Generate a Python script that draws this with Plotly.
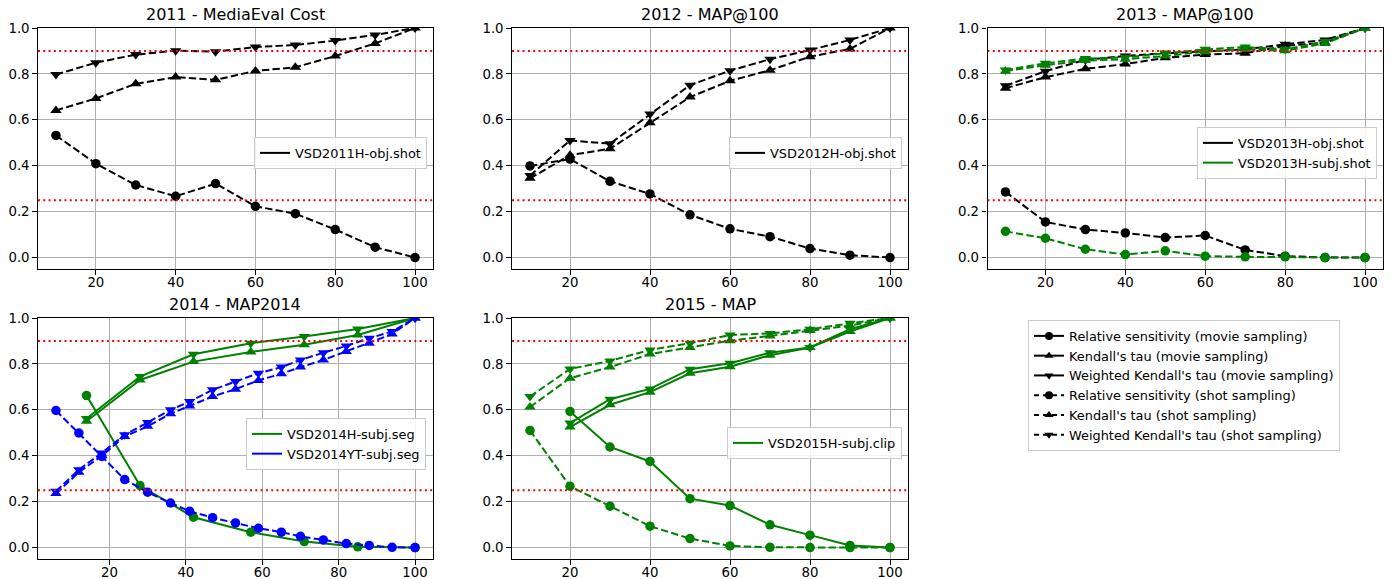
import plotly.graph_objects as go

# ---------------- data ----------------
x_2011 = [10, 20, 30, 40, 50, 60, 70, 80, 90, 100]
rs_2011_shot = [0.532, 0.409, 0.316, 0.267, 0.322, 0.223, 0.191, 0.122, 0.045, 0.0]
kt_2011_shot = [0.641, 0.693, 0.757, 0.786, 0.774, 0.813, 0.829, 0.878, 0.933, 1.0]
wkt_2011_shot = [0.797, 0.849, 0.884, 0.901, 0.897, 0.917, 0.926, 0.945, 0.970, 1.0]

x_2012 = [10, 20, 30, 40, 50, 60, 70, 80, 90, 100]
rs_2012_shot = [0.399, 0.429, 0.332, 0.277, 0.186, 0.125, 0.091, 0.039, 0.010, 0.0]
kt_2012_shot = [0.345, 0.446, 0.474, 0.587, 0.699, 0.770, 0.816, 0.875, 0.909, 1.0]
wkt_2012_shot = [0.357, 0.510, 0.496, 0.625, 0.751, 0.814, 0.864, 0.904, 0.948, 1.0]

x_2013 = [10, 20, 30, 40, 50, 60, 70, 80, 90, 100]
rs_2013_obj = [0.286, 0.155, 0.122, 0.107, 0.087, 0.096, 0.033, 0.006, 0.0, 0.0]
kt_2013_obj = [0.738, 0.786, 0.822, 0.843, 0.870, 0.884, 0.890, 0.922, 0.936, 1.0]
wkt_2013_obj = [0.748, 0.812, 0.861, 0.878, 0.890, 0.897, 0.907, 0.929, 0.948, 1.0]
rs_2013_subj = [0.114, 0.084, 0.036, 0.013, 0.029, 0.006, 0.003, 0.003, 0.0, 0.0]
kt_2013_subj = [0.812, 0.838, 0.858, 0.864, 0.878, 0.897, 0.907, 0.901, 0.933, 1.0]
wkt_2013_subj = [0.817, 0.846, 0.867, 0.872, 0.890, 0.907, 0.917, 0.907, 0.941, 1.0]

x_2014H = [14, 28, 42, 57, 71, 85, 100]
rs_2014H_movie = [0.662, 0.270, 0.132, 0.067, 0.026, 0.003, 0.0]
kt_2014H_movie = [0.550, 0.730, 0.810, 0.852, 0.883, 0.926, 1.0]
wkt_2014H_movie = [0.562, 0.745, 0.842, 0.890, 0.919, 0.952, 1.0]

x_2014YT = [6, 12, 18, 24, 30, 36, 41, 47, 53, 59, 65, 70, 76, 82, 88, 94, 100]
rs_2014YT_shot = [0.597, 0.499, 0.397, 0.296, 0.241, 0.194, 0.158, 0.130, 0.107, 0.084,
                  0.067, 0.049, 0.033, 0.017, 0.009, 0.001, 0.0]
kt_2014YT_shot = [0.235, 0.328, 0.400, 0.484, 0.528, 0.583, 0.617, 0.658, 0.690, 0.728,
                  0.757, 0.786, 0.817, 0.854, 0.890, 0.930, 1.0]
wkt_2014YT_shot = [0.245, 0.339, 0.412, 0.491, 0.545, 0.600, 0.636, 0.687, 0.723, 0.759,
                   0.786, 0.817, 0.849, 0.878, 0.912, 0.941, 1.0]

x_2015_movie = [20, 30, 40, 50, 60, 70, 80, 90, 100]
rs_2015_movie = [0.593, 0.438, 0.375, 0.213, 0.183, 0.099, 0.054, 0.009, 0.0]
kt_2015_movie = [0.525, 0.622, 0.677, 0.759, 0.788, 0.838, 0.871, 0.941, 1.0]
wkt_2015_movie = [0.542, 0.646, 0.691, 0.777, 0.803, 0.849, 0.872, 0.951, 1.0]
x_2015_shot = [10, 20, 30, 40, 50, 60, 70, 80, 90, 100]
rs_2015_shot = [0.510, 0.267, 0.180, 0.093, 0.039, 0.007, 0.001, 0.0, 0.0, 0.0]
kt_2015_shot = [0.612, 0.738, 0.786, 0.843, 0.872, 0.901, 0.922, 0.945, 0.967, 1.0]
wkt_2015_shot = [0.658, 0.778, 0.813, 0.861, 0.890, 0.926, 0.933, 0.951, 0.977, 1.0]

titles = ["2011 - MediaEval Cost", "2012 - MAP@100", "2013 - MAP@100",
          "2014 - MAP2014", "2015 - MAP"]
x_ticks = [20, 40, 60, 80, 100]
y_ticks = [0.0, 0.2, 0.4, 0.6, 0.8, 1.0]
thresholds = [0.25, 0.9]

metric_names = ["Relative sensitivity", "Kendall's tau", "Weighted Kendall's tau"]
sampling_names = ["movie sampling", "shot sampling"]

# ---------------- style ----------------
FONT = "DejaVu Sans"
FS = 13.3
LEG_FS = 12.9
BLACK, GREEN, BLUE = "#000000", "#008000", "#0000ff"
DASH = "7.4px,3.2px"
LW = 2
SYMBOLS = ["circle", "triangle-up", "triangle-down"]
SIZES = [9.5, 10, 10]
W, H = 1391, 579

col_px = [(38, 433), (512, 908), (987.5, 1383)]
row_px = [(28, 269), (318, 559)]

def xdom(c):
    return [col_px[c][0] / W, col_px[c][1] / W]

def ydom(r):
    return [1 - row_px[r][1] / H, 1 - row_px[r][0] / H]

cells = [(0, 0), (0, 1), (0, 2), (1, 0), (1, 1)]
x_ranges = [[5.5, 104.5], [5.5, 104.5], [5.5, 104.5], [1.3, 104.7], [5.5, 104.5]]

fig = go.Figure()

def add_set(i, x, rs, kt, wkt, color, dash):
    suffix = "" if i == 0 else str(i + 1)
    for ys, sym, sz in zip([rs, kt, wkt], SYMBOLS, SIZES):
        fig.add_trace(go.Scatter(
            x=x, y=ys, mode="lines+markers", xaxis="x" + suffix, yaxis="y" + suffix,
            line=dict(color=color, width=LW, dash=dash),
            marker=dict(symbol=sym, size=sz, color=color),
            showlegend=False, hoverinfo="x+y"))

add_set(0, x_2011, rs_2011_shot, kt_2011_shot, wkt_2011_shot, BLACK, DASH)
add_set(1, x_2012, rs_2012_shot, kt_2012_shot, wkt_2012_shot, BLACK, DASH)
add_set(2, x_2013, rs_2013_obj, kt_2013_obj, wkt_2013_obj, BLACK, DASH)
add_set(2, x_2013, rs_2013_subj, kt_2013_subj, wkt_2013_subj, GREEN, DASH)
add_set(3, x_2014H, rs_2014H_movie, kt_2014H_movie, wkt_2014H_movie, GREEN, "solid")
add_set(3, x_2014YT, rs_2014YT_shot, kt_2014YT_shot, wkt_2014YT_shot, BLUE, DASH)
add_set(4, x_2015_movie, rs_2015_movie, kt_2015_movie, wkt_2015_movie, GREEN, "solid")
add_set(4, x_2015_shot, rs_2015_shot, kt_2015_shot, wkt_2015_shot, GREEN, DASH)

# dataset legends (one per panel)
dataset_legends = [
    ("legend", [("VSD2011H-obj.shot", BLACK)], 254, 137),
    ("legend2", [("VSD2012H-obj.shot", BLACK)], 729, 137),
    ("legend3", [("VSD2013H-obj.shot", BLACK), ("VSD2013H-subj.shot", GREEN)], 1197, 127),
    ("legend4", [("VSD2014H-subj.seg", GREEN), ("VSD2014YT-subj.seg", BLUE)], 246, 418),
    ("legend5", [("VSD2015H-subj.clip", GREEN)], 727, 427),
]
legend_style = dict(bgcolor="rgba(255,255,255,0.85)", bordercolor="#cccccc", borderwidth=1,
                    font=dict(family=FONT, size=LEG_FS, color="#000000"),
                    xanchor="left", yanchor="top", tracegroupgap=0)
layout_legends = {}
for name, entries, lx, ly in dataset_legends:
    for label, color in entries:
        fig.add_trace(go.Scatter(x=[None], y=[None], mode="lines", name=label,
                                 line=dict(color=color, width=LW), legend=name,
                                 showlegend=True))
    layout_legends[name] = dict(x=lx / W, y=1 - ly / H, **legend_style)

# marker/linestyle legend
for s_i, samp in enumerate(sampling_names):
    for m_i, met in enumerate(metric_names):
        fig.add_trace(go.Scatter(
            x=[None], y=[None], mode="lines+markers", name=f"{met} ({samp})",
            line=dict(color=BLACK, width=LW, dash="solid" if s_i == 0 else "5px,4px"),
            marker=dict(symbol=SYMBOLS[m_i], size=8, color=BLACK),
            legend="legend6", showlegend=True))
layout_legends["legend6"] = dict(x=1028 / W, y=1 - 320 / H, **legend_style)

# axes
axis_common = dict(showline=True, mirror=True, linecolor="#000000", linewidth=1.07,
                   ticks="outside", ticklen=4.7, tickcolor="#000000", tickwidth=1.07,
                   showgrid=True, gridcolor="#b0b0b0", gridwidth=1.07, zeroline=False,
                   automargin=False,
                   tickfont=dict(family=FONT, size=FS, color="#000000"))
layout_axes = {}
shapes = []
annotations = []
for i, (r, c) in enumerate(cells):
    suffix = "" if i == 0 else str(i + 1)
    layout_axes["xaxis" + suffix] = dict(domain=xdom(c), anchor="y" + suffix,
                                         range=x_ranges[i], tickvals=x_ticks,
                                         ticklabelstandoff=-4, **axis_common)
    layout_axes["yaxis" + suffix] = dict(domain=ydom(r), anchor="x" + suffix,
                                         range=[-0.05, 1.0], tickvals=y_ticks,
                                         tickformat=".1f", **axis_common)
    for t in thresholds:
        shapes.append(dict(type="line", xref=f"x{suffix} domain", yref="y" + suffix,
                           x0=0, x1=1, y0=t, y1=t,
                           line=dict(color="#ff0000", width=2, dash="2px,3.3px")))
    d = xdom(c)
    annotations.append(dict(text=titles[i], x=(d[0] + d[1]) / 2, xref="paper",
                            y=1 - (row_px[r][0] - 14) / H, yref="paper",
                            xanchor="center", yanchor="middle", showarrow=False,
                            font=dict(family=FONT, size=16, color="#000000")))

fig.update_layout(width=W, height=H,
                  margin=dict(l=0, r=0, t=0, b=0, pad=0, autoexpand=False),
                  paper_bgcolor="white", plot_bgcolor="white",
                  font=dict(family=FONT, size=FS, color="#000000"),
                  shapes=shapes, annotations=annotations,
                  **layout_axes, **layout_legends)

fig.write_html("out.html", config={"displayModeBar": False},
               post_script="document.body.style.margin='0';document.body.style.padding='0';")
